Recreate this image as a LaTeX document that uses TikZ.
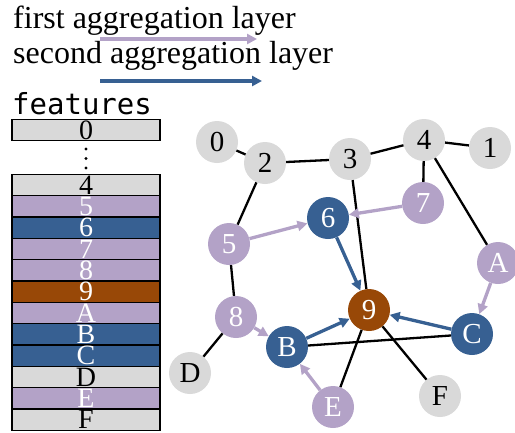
\documentclass[tikz,border=0pt]{standalone}
\usepackage{fontspec}
\setmainfont{Liberation Serif}
\newfontfamily\featmono{DejaVu Sans Mono}
\usetikzlibrary{arrows.meta, positioning}
\definecolor{nodegray}{HTML}{D9D9D9}
\definecolor{hoppurple}{HTML}{B3A2C7}
\definecolor{hopblue}{HTML}{376092}
\definecolor{targetbrown}{HTML}{984807}
\tikzset{
  vertex/.style={circle, minimum size=42bp, inner sep=0pt, font=\fontsize{29bp}{30bp}\selectfont},
  plainv/.style={vertex, fill=nodegray, text=black},
  hopone/.style={vertex, fill=hoppurple, text=white},
  hoptwo/.style={vertex, fill=hopblue, text=white},
  target/.style={vertex, fill=targetbrown, text=white},
  edge/.style={draw=black, line width=2.3bp},
  arrowone/.style={-{Triangle[length=10bp, width=10bp]}, draw=hoppurple, line width=3.3bp},
  arrowtwo/.style={-{Triangle[length=10bp, width=10bp]}, draw=hopblue, line width=3.3bp},
  legend/.style={inner sep=0pt, anchor=base west, font=\fontsize{32bp}{34bp}\selectfont},
  row/.style={draw=black, rectangle, minimum width=148bp, minimum height=21.33bp, inner sep=0pt, outer sep=0pt, line width=1.3bp, font=\fontsize{28bp}{29bp}\selectfont},
  grayrow/.style={row, fill=nodegray, text=black},
  purplerow/.style={row, fill=hoppurple, text=white},
  bluerow/.style={row, fill=hopblue, text=white},
  brownrow/.style={row, fill=targetbrown, text=white}
}
\begin{document}
\begin{tikzpicture}[x=1bp, y=-1bp]
\useasboundingbox (0,0) rectangle (515,432);

% legend
\node[legend] (first) at (13,28) {first aggregation layer};
\node[legend] (second) at (13,63) {second aggregation layer};
\coordinate (l1s) at (100,39);
\coordinate (l1e) at (257,39);
\coordinate (l2s) at (100,81);
\coordinate (l2e) at (262,81);
\draw[arrowone] (l1s) -- (l1e);
\draw[arrowtwo] (l2s) -- (l2e);

% feature table
\node[inner sep=0pt, anchor=base west, font=\featmono\fontsize{29bp}{30bp}\selectfont] (feat) at (12,114) {features};
\node[grayrow] (r0) at (86,130) {0};
\fill (86,149) circle (1.6bp);
\fill (86,158.5) circle (1.6bp);
\fill (86,168) circle (1.6bp);
\node[grayrow] (r4) at (86,185) {4};
\node[purplerow, below=0pt of r4] (r5) {5};
\node[bluerow, below=0pt of r5] (r6) {6};
\node[purplerow, below=0pt of r6] (r7) {7};
\node[purplerow, below=0pt of r7] (r8) {8};
\node[brownrow, below=0pt of r8] (r9) {9};
\node[purplerow, below=0pt of r9] (rA) {A};
\node[bluerow, below=0pt of rA] (rB) {B};
\node[bluerow, below=0pt of rB] (rC) {C};
\node[grayrow, below=0pt of rC] (rD) {D};
\node[purplerow, below=0pt of rD] (rE) {E};
\node[grayrow, below=0pt of rE] (rF) {F};

% graph
\node[plainv] (n0) at (217,142) {0};
\node[plainv] (n2) at (265,163) {2};
\node[plainv] (n3) at (350,159) {3};
\node[plainv] (n4) at (424,140) {4};
\node[plainv] (n1) at (490,148) {1};
\node[hopone] (n7) at (423,203) {7};
\node[hoptwo] (n6) at (328,218) {6};
\node[hopone] (n5) at (229,244) {5};
\node[hopone] (nA) at (498,263) {A};
\node[target] (n9) at (369,310) {9};
\node[hopone] (n8) at (236,317) {8};
\node[hoptwo] (nB) at (287,347) {B};
\node[hoptwo] (nC) at (472,334) {C};
\node[plainv] (nD) at (190,373) {D};
\node[hopone] (nE) at (333,407) {E};
\node[plainv] (nF) at (440,396) {F};

\draw[edge] (n0) -- (n2);
\draw[edge] (n2) -- (n3);
\draw[edge] (n3) -- (n4);
\draw[edge] (n4) -- (n1);
\draw[edge] (n4) -- (n7);
\draw[edge] (n4) -- (nA);
\draw[edge] (n2) -- (n5);
\draw[edge] (n3) -- (n9);
\draw[edge] (n5) -- (n8);
\draw[edge] (n8) -- (nD);
\draw[edge] (nB) -- (nC);
\draw[edge] (n9) -- (nE);
\draw[edge] (n9) -- (nF);

\draw[arrowone] (n5) -- (n6);
\draw[arrowone] (n7) -- (n6);
\draw[arrowone] (nA) -- (nC);
\draw[arrowone] (n8) -- (nB);
\draw[arrowone] (nE) -- (nB);
\draw[arrowtwo] (n6) -- (n9);
\draw[arrowtwo] (nB) -- (n9);
\draw[arrowtwo] (nC) -- (n9);

\end{tikzpicture}
\end{document}
